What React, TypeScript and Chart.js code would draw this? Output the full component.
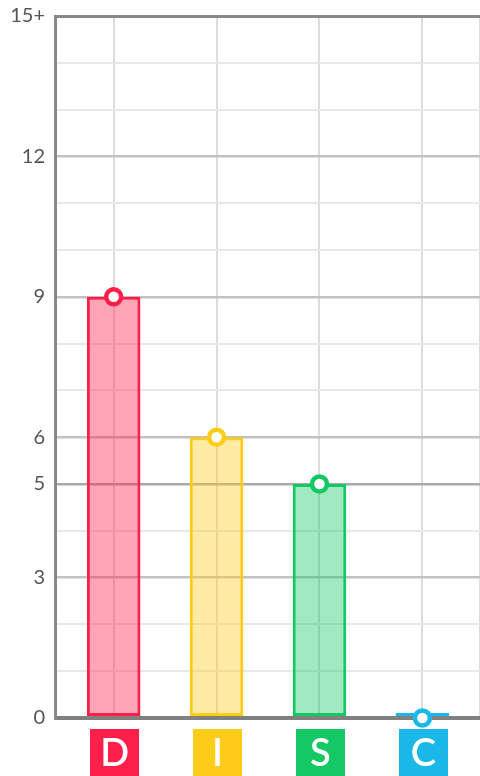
import React, { useEffect, useRef } from "react";
import { Chart, registerables } from "chart.js";

Chart.register(...registerables);

const categories = ["D", "I", "S", "C"];
const values = [9, 6, 5, 0];
const solidColors = ["#ff1f4b", "#ffcc1a", "#14c864", "#1ab8e8"];
const fillColors = [
  "rgba(255,31,75,0.4)",
  "rgba(255,204,26,0.4)",
  "rgba(20,200,100,0.4)",
  "rgba(26,184,232,0.4)",
];
const yLabelValues = [0, 3, 5, 6, 9, 12];
const yMaxLabel = "15+";
const majorLines = [3, 6, 9, 12];

const boxPlugin = {
  id: "letterBoxes",
  afterDraw(chart: any) {
    const { ctx, chartArea } = chart;
    const xs = chart.scales.x;
    ctx.save();
    categories.forEach((c, i) => {
      const cx = xs.getPixelForValue(i) + 1;
      const w = 49;
      const h = 48;
      const top = chartArea.bottom + 11;
      ctx.fillStyle = solidColors[i];
      ctx.fillRect(Math.round(cx - w / 2), top, w, h);
      ctx.fillStyle = "#ffffff";
      ctx.font = "600 38px Lato";
      ctx.textAlign = "center";
      ctx.textBaseline = "middle";
      ctx.fillText(c, cx, top + h / 2 + 1);
    });
    ctx.restore();
  },
};

export default function App() {
  const ref = useRef<HTMLCanvasElement>(null);
  useEffect(() => {
    if (!ref.current) return;
    const pts = values.map((v, i) => ({ x: i, y: v }));
    const chart = new Chart(ref.current, {
      type: "bar",
      data: {
        datasets: [
          {
            type: "line",
            data: pts,
            showLine: false,
            pointRadius: 7.5,
            pointHoverRadius: 7.5,
            pointBorderWidth: 4.5,
            pointBackgroundColor: "#ffffff",
            pointBorderColor: solidColors,
            order: 0,
            clip: false,
          } as any,
          {
            type: "bar",
            data: pts,
            backgroundColor: fillColors,
            borderColor: solidColors,
            borderWidth: 3,
            borderSkipped: false,
            minBarLength: 5,
            categoryPercentage: 1,
            barPercentage: 0.93,
            order: 1,
          } as any,
        ],
      },
      plugins: [boxPlugin],
      options: {
        animation: false,
        responsive: true,
        maintainAspectRatio: false,
        layout: { autoPadding: false, padding: { left: 0, right: 0, top: 16, bottom: 58 } },
        plugins: { legend: { display: false }, tooltip: { enabled: false } },
        font: { family: "Lato" },
        scales: {
          x: {
            type: "linear",
            offset: false,
            min: -0.57,
            max: 3.56,
            ticks: { display: false, stepSize: 1, padding: 0 },
            border: { display: false },
            grid: {
              offset: false,
              drawTicks: false,
              color: "#dcdcdc",
              lineWidth: 2,
            },
          },
          y: {
            min: 0,
            max: 15,
            afterFit: (s: any) => {
              s.width = 55;
              s.paddingTop = 0;
              s.paddingBottom = 0;
            },
            ticks: {
              stepSize: 1,
              padding: 10,
              color: "#555",
              font: { family: "Lato", size: 20, lineHeight: 1.1 },
              autoSkip: false,
              callback: (v: any) => {
                if (v === 15) return yMaxLabel;
                return yLabelValues.includes(v) ? String(v) : "";
              },
            },
            border: { display: true, color: "#888", width: 3 },
            grid: {
              drawTicks: false,
              color: (ctx: any) => {
                const v = ctx.tick?.value;
                if (v === 0) return "#808080";
                if (v === 15) return "#888888";
                if (v === 5) return "#aaaaaa";
                if (majorLines.includes(v)) return "#c2c2c2";
                return "#e8e8e8";
              },
              lineWidth: (ctx: any) => {
                const v = ctx.tick?.value;
                if (v === 0) return 4;
                if (v === 15) return 3;
                if (v === 5 || majorLines.includes(v)) return 2.5;
                return 2;
              },
            },
          },
        },
      } as any,
    });
    return () => chart.destroy();
  }, []);
  return (
    <div style={{ position: "absolute", left: 0, top: 0, width: 480, height: 776 }}>
      <canvas ref={ref} />
    </div>
  );
}
